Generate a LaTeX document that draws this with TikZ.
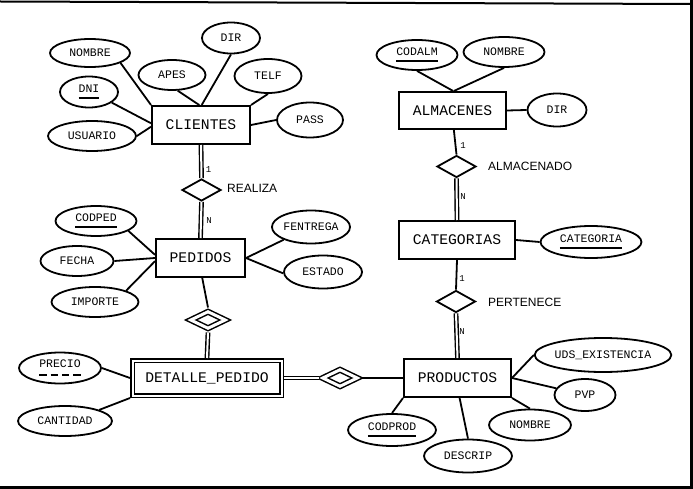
\documentclass[tikz,border=0pt]{standalone}
\usepackage{fontspec}
\setmainfont{Liberation Sans}
\newfontfamily\monof{Liberation Mono}
\usetikzlibrary{shapes.geometric}
\newcommand\keyul[1]{\setbox0=\hbox{#1}\rlap{\rule[-6.5pt]{\wd0}{2pt}}\box0}
\newcommand\partul[1]{\setbox0=\hbox{#1}\rlap{\hbox to \wd0{\rule[-8pt]{0.18\wd0}{2pt}\hfil\rule[-8pt]{0.18\wd0}{2pt}\hfil\rule[-8pt]{0.18\wd0}{2pt}\hfil\rule[-8pt]{0.18\wd0}{2pt}}}\box0}
\begin{document}
\begin{tikzpicture}[x=1pt,y=-1pt,
  ent/.style={draw,line width=2pt,rectangle,inner sep=0pt,font=\monof\fontsize{14.7}{16}\selectfont},
  went/.style={draw,line width=1.5pt,double,double distance=2pt,rectangle,inner sep=0pt,outer sep=2.5pt,font=\monof\fontsize{14.7}{16}\selectfont},
  attr/.style={draw,line width=1.8pt,ellipse,inner sep=0pt,font=\monof\fontsize{11.5}{13}\selectfont},
  rel/.style={draw,line width=1.8pt,diamond,inner sep=0pt,minimum width=39pt,minimum height=22pt},
  wrel/.style={draw,line width=1.5pt,double,double distance=3pt,diamond,inner sep=0pt,minimum width=37pt,minimum height=19pt,outer sep=3pt},
  conn/.style={line width=1.8pt},
  dconn/.style={line width=1.4pt,double,double distance=2pt},
  card/.style={font=\monof\fontsize{9}{10}\selectfont,inner sep=0pt},
  rlab/.style={font=\fontsize{12}{14}\selectfont,inner sep=0pt,anchor=west}
]
\useasboundingbox (0,0) rectangle (693,489);
% frame
\draw[line width=2pt] (0,1.5) -- (691,4);
\draw[line width=3pt] (691.5,0) -- (691.5,489);
\draw[line width=3pt] (0,487.5) -- (693,487.5);

% entities
\node[ent,minimum width=98pt,minimum height=38pt] (clientes) at (201,125) {CLIENTES};
\node[ent,minimum width=107pt,minimum height=37pt] (almacenes) at (452.5,110.5) {ALMACENES};
\node[ent,minimum width=89pt,minimum height=38pt] (pedidos) at (200.5,258) {PEDIDOS};
\node[ent,minimum width=116pt,minimum height=38pt] (categorias) at (457,240) {CATEGORIAS};
\node[ent,minimum width=107pt,minimum height=38pt] (productos) at (457.5,378) {PRODUCTOS};
\node[went,minimum width=149pt,minimum height=35pt] (detalle) at (207,378) {DETALLE\_PEDIDO};

% relationships
\node[rel] (realiza) at (201.5,190) {};
\node[rel] (almacenado) at (456.5,166.5) {};
\node[rel] (pertenece) at (456,301.5) {};
\node[wrel] (weaka) at (208,320) {};
\node[wrel] (weakb) at (340,378) {};

\node[rlab] (lrealiza) at (227,188) {REALIZA};
\node[rlab] (lalmacenado) at (488,166) {ALMACENADO};
\node[rlab] (lpertenece) at (488,302) {PERTENECE};

% attributes
\node[attr,minimum width=80pt,minimum height=28pt] (nombrea) at (90,53) {NOMBRE};
\node[attr,minimum width=58pt,minimum height=31pt] (dira) at (231,38) {DIR};
\node[attr,minimum width=67pt,minimum height=30pt] (apes) at (172,75) {APES};
\node[attr,minimum width=67pt,minimum height=34pt] (telf) at (268,76) {TELF};
\node[attr,minimum width=58pt,minimum height=31pt] (dni) at (89,92) {\keyul{DNI}};
\node[attr,minimum width=88pt,minimum height=30pt] (usuario) at (92,136) {USUARIO};
\node[attr,minimum width=66pt,minimum height=35pt] (pass) at (310,120) {PASS};

\node[attr,minimum width=81pt,minimum height=30pt] (codalm) at (417,55) {\keyul{CODALM}};
\node[attr,minimum width=81pt,minimum height=30pt] (nombreb) at (504,52) {NOMBRE};
\node[attr,minimum width=59pt,minimum height=33pt] (dirb) at (557,110) {DIR};

\node[attr,minimum width=101pt,minimum height=32pt] (categoria) at (591,242) {\keyul{CATEGORIA}};

\node[attr,minimum width=81pt,minimum height=30pt] (codped) at (96,221) {\keyul{CODPED}};
\node[attr,minimum width=73pt,minimum height=30pt] (fecha) at (77,261) {FECHA};
\node[attr,minimum width=87pt,minimum height=30pt] (importe) at (95,302) {IMPORTE};
\node[attr,minimum width=78pt,minimum height=33pt] (fentrega) at (311,227) {FENTREGA};
\node[attr,minimum width=78pt,minimum height=33pt] (estado) at (323,272) {ESTADO};

\node[attr,minimum width=82pt,minimum height=31pt] (precio) at (60,368) {\partul{PRECIO}};
\node[attr,minimum width=94pt,minimum height=30pt] (cantidad) at (65,421) {CANTIDAD};

\node[attr,minimum width=136pt,minimum height=34pt] (uds) at (603,355) {UDS\_EXISTENCIA};
\node[attr,minimum width=61pt,minimum height=32pt] (pvp) at (585,395) {PVP};
\node[attr,minimum width=82pt,minimum height=31pt] (nombrec) at (530,425) {NOMBRE};
\node[attr,minimum width=88pt,minimum height=33pt] (descrip) at (468,456) {DESCRIP};
\node[attr,minimum width=88pt,minimum height=32pt] (codprod) at (392,430) {\keyul{CODPROD}};

% attribute connectors
\draw[conn] (nombrea.-18) -- (clientes.north west);
\draw[conn] (dira.south) -- (clientes.88);
\draw[conn] (apes.-70) -- (clientes.95);
\draw[conn] (telf.south) -- (clientes.north east);
\draw[conn] (dni.-25) -- (clientes.178);
\draw[conn] (usuario.east) -- (clientes.182);
\draw[conn] (pass.west) -- (clientes.east);

\draw[conn] (codalm.south) -- (almacenes.88);
\draw[conn] (nombreb.south) -- (almacenes.86);
\draw[conn] (dirb.west) -- (almacenes.east);

\draw[conn] (categoria.west) -- (categorias.east);

\draw[conn] (codped.-17) -- (pedidos.176);
\draw[conn] (fecha.east) -- (pedidos.west);
\draw[conn] (importe.20) -- (pedidos.184);
\draw[conn] (fentrega.205) -- (pedidos.east);
\draw[conn] (estado.182) -- (pedidos.east);

\draw[conn] (precio.east) -- (detalle.west);
\draw[conn] (cantidad.18) -- (detalle.south west);

\draw[conn] (uds.west) -- (productos.east);
\draw[conn] (pvp) -- (productos.east);
\draw[conn] (nombrec.north) -- (productos.south east);
\draw[conn] (descrip.north) -- (productos.-84);
\draw[conn] (codprod.north) -- (productos.south west);

% relationship connectors
\draw[dconn] (clientes.south) -- (realiza.north);
\draw[dconn] (realiza.south) -- (pedidos.north);
\draw[conn] (almacenes.-86) -- (almacenado.north);
\draw[dconn] (almacenado.south) -- (categorias.north);
\draw[conn] (categorias.south) -- (pertenece.north);
\draw[dconn] (pertenece.south) -- (productos.north);
\draw[conn] (pedidos.-85) -- (weaka.north);
\draw[dconn] (weaka.south) -- (detalle.north);
\draw[dconn] (detalle.east) -- (weakb.west);
\draw[conn] (weakb.east) -- (productos.west);

% cardinalities
\node[card] (ca) at (208.5,170) {1};
\node[card] (cb) at (209,221) {N};
\node[card] (cc) at (463,146) {1};
\node[card] (cd) at (463,197) {N};
\node[card] (ce) at (462,279) {1};
\node[card] (cf) at (462,332) {N};
\end{tikzpicture}
\end{document}
